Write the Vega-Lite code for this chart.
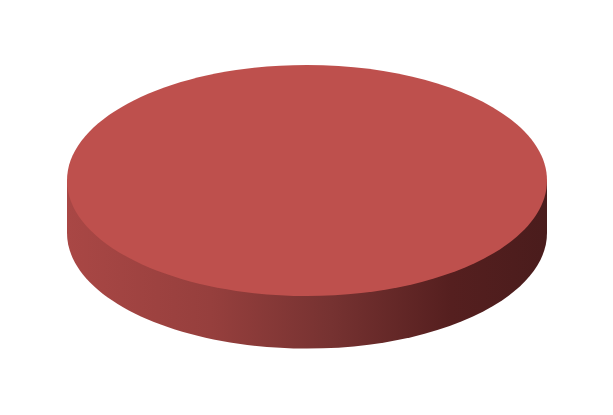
{
  "$schema": "https://vega.github.io/schema/vega-lite/v6.json",
  "width": 613,
  "height": 415,
  "autosize": {"type": "fit", "contains": "padding"},
  "padding": 0,
  "background": "white",
  "config": {"view": {"stroke": null}},
  "data": {"values": [{"category": "Series 1", "value": 100}]},
  "layer": [
    {
      "mark": {
        "type": "point",
        "shape": "M -1 0 L -1 0.2188 A 1 0.4813 0 0 0 1 0.2188 L 1 0 Z",
        "size": 230400,
        "filled": true,
        "opacity": 1,
        "strokeWidth": 0,
        "xOffset": 0.5,
        "yOffset": -27,
        "fill": {
          "gradient": "linear",
          "x1": 0, "y1": 0, "x2": 1, "y2": 0,
          "stops": [
            {"offset": 0, "color": "#A94745"},
            {"offset": 0.3, "color": "#963F3D"},
            {"offset": 0.55, "color": "#763231"},
            {"offset": 0.8, "color": "#551F1F"},
            {"offset": 1, "color": "#4A1C1C"}
          ]
        }
      },
      "encoding": {"detail": {"field": "category"}}
    },
    {
      "mark": {
        "type": "point",
        "shape": "M -1 0 A 1 0.4813 0 1 0 1 0 A 1 0.4813 0 1 0 -1 0 Z",
        "size": 230400,
        "filled": true,
        "opacity": 1,
        "strokeWidth": 0,
        "xOffset": 0.5,
        "yOffset": -27,
        "fill": "#BE504D"
      },
      "encoding": {"detail": {"field": "category"}, "tooltip": {"field": "value", "type": "quantitative"}}
    }
  ]
}
